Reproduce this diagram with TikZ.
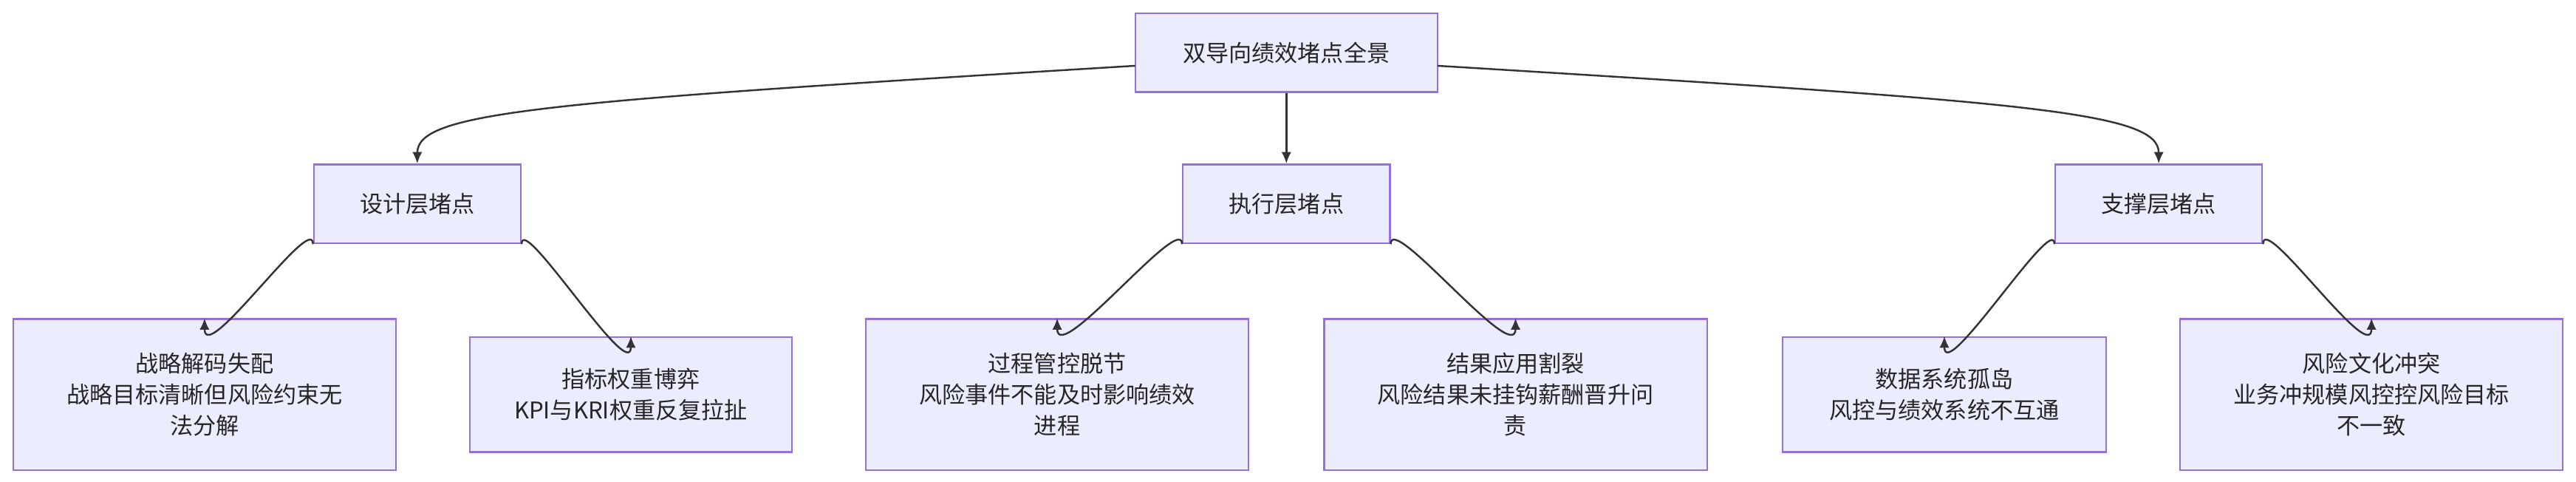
\documentclass[tikz,border=0pt]{standalone}
\usepackage{fontspec}
\newfontfamily\cjk{Noto Sans CJK SC}
\usetikzlibrary{arrows.meta}
\begin{document}
\begin{tikzpicture}[x=1pt,y=-1pt,
  box/.style={draw=mborder,fill=mfill,line width=1pt,align=center,font=\cjk\fontsize{14}{19}\selectfont,text=black!85,inner sep=0pt},
  edge/.style={draw=black!80,line width=1.1pt,-{Latex[length=7pt,width=6pt]}}]
\definecolor{mfill}{HTML}{ECECFF}
\definecolor{mborder}{HTML}{9370DB}
\useasboundingbox (0,0) rectangle (1568,293);
\node[box,minimum width=184,minimum height=48] (r) at (783,32) {双导向绩效堵点全景};
\node[box,minimum width=126,minimum height=48] (a) at (254,124) {设计层堵点};
\node[box,minimum width=126,minimum height=48] (b) at (783,124) {执行层堵点};
\node[box,minimum width=126,minimum height=48] (c) at (1314,124) {支撑层堵点};
\node[box,minimum width=233,minimum height=92] (a1) at (124.5,240) {战略解码失配\\战略目标清晰但风险约束无\\法分解};
\node[box,minimum width=196,minimum height=70] (a2) at (384,240) {指标权重博弈\\KPI与KRI权重反复拉扯};
\node[box,minimum width=233,minimum height=92] (b1) at (643.5,240) {过程管控脱节\\风险事件不能及时影响绩效\\进程};
\node[box,minimum width=233,minimum height=92] (b2) at (922.5,240) {结果应用割裂\\风险结果未挂钩薪酬晋升问\\责};
\node[box,minimum width=197,minimum height=70] (c1) at (1183.5,240) {数据系统孤岛\\风控与绩效系统不互通};
\node[box,minimum width=233,minimum height=92] (c2) at (1443.5,240) {风险文化冲突\\业务冲规模风控控风险目标\\不一致};
\draw[edge] (691,40) .. controls (330,62) and (254,68) .. (a.north);
\draw[edge] (r.south) -- (b.north);
\draw[edge] (875,40) .. controls (1236,62) and (1314,68) .. (c.north);
\foreach \p/\l/\rr in {a/a1/a2,b/b1/b2,c/c1/c2}{
  \draw[edge] (\p.south west) .. controls ([yshift=20]\p.south west) and ([yshift=-30]\l.north) .. (\l.north);
  \draw[edge] (\p.south east) .. controls ([yshift=20]\p.south east) and ([yshift=-30]\rr.north) .. (\rr.north);
}
\end{tikzpicture}
\end{document}
